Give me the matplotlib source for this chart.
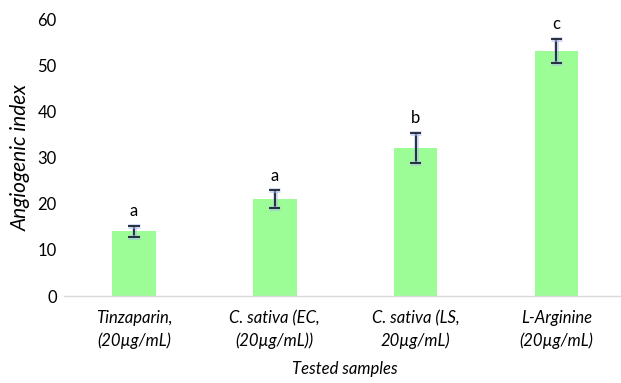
import matplotlib
matplotlib.use("Agg")
import matplotlib.pyplot as plt
import matplotlib.patheffects as pe

categories = ["Tinzaparin,\n(20µg/mL)", "C. sativa (EC,\n(20µg/mL))",
              "C. sativa (LS,\n20µg/mL)", "L-Arginine\n(20µg/mL)"]
values = [14.0, 21.0, 32.1, 53.1]
errors = [1.2, 1.9, 3.2, 2.7]
letters = ["a", "a", "b", "c"]
y_ticks = [0, 10, 20, 30, 40, 50, 60]

plt.rcParams["font.family"] = ["Lato", "DejaVu Sans"]

fig = plt.figure(figsize=(6.21, 3.83), dpi=100)
ax = fig.add_axes([0.1024, 0.227, 0.907, 0.723])

x = list(range(len(categories)))
ax.bar(x, values, width=0.31, color="#9cfc96", edgecolor="none", zorder=2)

# error bars with a soft blue glow
glow = [pe.Stroke(linewidth=3.5, foreground="#aab8e8", alpha=0.55), pe.Normal()]
eb = ax.errorbar(x, values, yerr=errors, fmt="none", ecolor="#1a2430",
                 elinewidth=1.3, capsize=4, capthick=1.3, zorder=3)
for artist in list(eb[1]) + list(eb[2]):
    artist.set_path_effects(glow)

for xi, v, e, lab in zip(x, values, errors, letters):
    ax.annotate(lab, (xi, v + e), xytext=(0, 7), textcoords="offset points",
                ha="center", va="baseline", fontsize=12, color="#000000")

ax.set_xlim(-0.5, 3.5)
ax.set_ylim(0, 60)
ax.set_yticks(y_ticks)
ax.set_xticks(x)
ax.set_xticklabels(categories, fontstyle="italic", fontsize=12, linespacing=1.45)
ax.tick_params(axis="both", length=0, colors="#000000", labelsize=12)
ax.tick_params(axis="y", pad=5)
ax.tick_params(axis="x", pad=10)

for s in ["top", "right", "left"]:
    ax.spines[s].set_visible(False)
ax.spines["bottom"].set_color("#d9d9d9")
ax.spines["bottom"].set_linewidth(1.0)

ax.set_ylabel("Angiogenic index", fontstyle="italic", fontsize=15, labelpad=4.5)
ax.set_xlabel("Tested samples", fontstyle="italic", fontsize=12, labelpad=9)

fig.savefig("out.png", dpi=100)
